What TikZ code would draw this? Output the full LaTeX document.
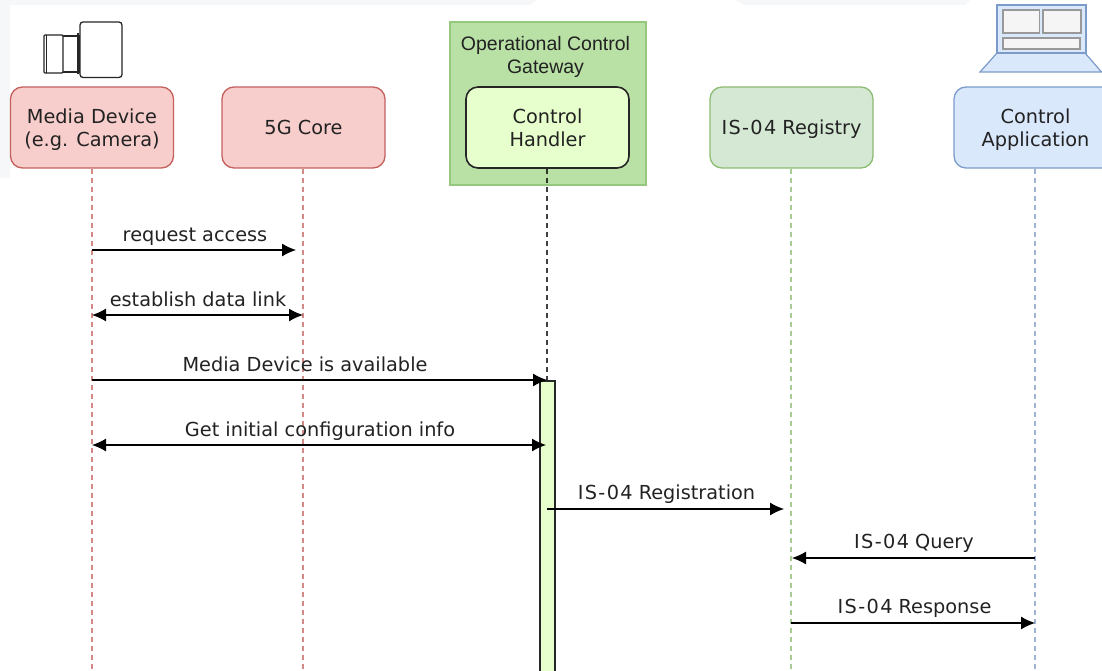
\documentclass[tikz,border=0pt]{standalone}
\usepackage{fontspec}
\setmainfont{DejaVu Sans}
\newfontfamily\helv{Liberation Sans}
\usetikzlibrary{arrows.meta}
\definecolor{redfill}{HTML}{F8CECC}\definecolor{redline}{HTML}{C4615D}
\definecolor{greenfill}{HTML}{D5E8D4}\definecolor{greenline}{HTML}{8CBB72}
\definecolor{bluefill}{HTML}{DAE8FC}\definecolor{blueline}{HTML}{7C9BC9}
\definecolor{gwfill}{HTML}{B9E0A5}\definecolor{gwline}{HTML}{96C77F}\definecolor{limefill}{HTML}{E6FFCC}
\definecolor{bgstrip}{HTML}{F6F7F9}\definecolor{textcol}{HTML}{222222}
\definecolor{winline}{HTML}{999999}\definecolor{winfill}{HTML}{F5F5F5}
\newcommand{\tl}[1]{\rule[-1.5pt]{0pt}{18pt}\smash{#1}}
\newcommand{\isf}{{\addfontfeature{LetterSpace=7}IS-04}}
\tikzset{
  actor/.style={rounded corners=12pt,minimum width=163pt,minimum height=81pt,align=center,inner sep=0pt,line width=1.3pt,font=\fontsize{19.3}{23}\selectfont,text=textcol},
  redactor/.style={actor,draw=redline,fill=redfill},
  greenactor/.style={actor,draw=greenline,fill=greenfill},
  blueactor/.style={actor,draw=blueline,fill=bluefill},
  handler/.style={actor,draw=black!85,fill=limefill,line width=1.6pt},
  lifeline/.style={dash pattern=on 5pt off 4pt,line width=1.15pt,draw opacity=0.75},
  msg/.style={line width=1.2pt,-{Latex[length=14pt,width=13pt]}},
  bimsg/.style={line width=1.2pt,{Latex[length=14pt,width=13pt]}-{Latex[length=14pt,width=13pt]}},
  msglabel/.style={font=\fontsize{19.3}{22}\selectfont,text=textcol,inner sep=0pt,anchor=base},
  iconline/.style={draw=black!85,line width=1.3pt,fill=white}
}
\begin{document}
\begin{tikzpicture}[x=1pt,y=-1pt]
\useasboundingbox (0,0) rectangle (1102,671);
\clip (0,0) rectangle (1102,671);
\fill[bgstrip] (0,0) rectangle (10,178);
\fill[bgstrip] (0,0) -- (537,0) -- (530,5) -- (0,5) -- cycle;
\fill[bgstrip] (735,0) -- (970,0) -- (965,5) -- (744,5) -- cycle;
% gateway
\node[draw=gwline,fill=gwfill,line width=1.2pt,minimum width=196pt,minimum height=163pt,inner sep=0pt] (gw) at (548,103.5) {};
\node[font=\helv\fontsize{19.5}{23}\selectfont,align=center,text=textcol,inner sep=0pt] (gwt) at (545.5,55) {\tl{Operational Control}\\\tl{Gateway}};
% actors
\node[redactor] (md) at (92,127.5) {\tl{Media Device}\\\tl{(e.g. Camera)}};
\node[redactor] (core) at (303.5,127.5) {\tl{5G Core}};
\node[handler] (ch) at (547.5,127.5) {\tl{Control}\\\tl{Handler}};
\node[greenactor] (reg) at (791.5,127.5) {\tl{\isf{} Registry}};
\node[blueactor] (app) at (1035.5,127.5) {\tl{Control}\\\tl{Application}};
% lifeline ends
\coordinate (mdE) at (92,671);\coordinate (coreE) at (303,671);
\coordinate (chE) at (547,380);\coordinate (regE) at (791,671);\coordinate (appE) at (1035,671);
\draw[lifeline,draw=redline] (md.south) -- (mdE);
\draw[lifeline,draw=redline] ([xshift=-.5pt]core.south) -- (coreE);
\draw[lifeline,draw=black] ([xshift=-.5pt]ch.south) -- (chE);
\draw[lifeline,draw=greenline] ([xshift=-.5pt]reg.south) -- (regE);
\draw[lifeline,draw=blueline] ([xshift=-.5pt]app.south) -- (appE);
% activation
\node[draw=black!85,fill=limefill,line width=1.6pt,minimum width=15.5pt,minimum height=320pt,inner sep=0pt,anchor=north] (act) at (547.5,380) {};
% messages
\coordinate (a1) at (92,250);\coordinate (a2) at (296,250);
\draw[msg] (a1) -- (a2);
\node[msglabel] (l1) at (195,241) {request access};
\coordinate (b1) at (92,315);\coordinate (b2) at (303,315);
\draw[bimsg] (b1) -- (b2);
\node[msglabel] (l2) at (198,306) {establish data link};
\coordinate (c1) at (92,380);\coordinate (c2) at (547,380);
\draw[msg] (c1) -- (c2);
\node[msglabel] (l3) at (305,371) {Media Device is available};
\coordinate (d1) at (92,445);\coordinate (d2) at (546,445);
\draw[bimsg] (d1) -- (d2);
\node[msglabel] (l4) at (320,436) {Get initial configuration info};
\coordinate (e1) at (547,509);\coordinate (e2) at (784,509);
\draw[msg] (e1) -- (e2);
\node[msglabel] (l5) at (666.5,499) {\isf{} Registration};
\coordinate (f1) at (1035,558);\coordinate (f2) at (792,558);
\draw[msg] (f1) -- (f2);
\node[msglabel] (l6) at (914,548) {\isf{} Query};
\coordinate (g1) at (791,623);\coordinate (g2) at (1035,623);
\draw[msg] (g1) -- (g2);
\node[msglabel] (l7) at (914.5,613) {\isf{} Response};
% camera icon
\draw[iconline] (62,36) rectangle (79,72);
\draw[iconline,rounded corners=1pt] (44,35) rectangle (63,73);
\draw[black!85,line width=0.9pt] (46.5,35) -- (46.5,73);
\draw[black!85,line width=1.6pt] (78,33.5) -- (78,74);
\draw[iconline,rounded corners=3pt] (80,22) rectangle (122,77.5);
% laptop icon
\draw[draw=blueline,fill=bluefill,line width=1.2pt] (997,53) -- (980,72) -- (1101.5,72) -- (1085,53) -- cycle;
\fill[bluefill,draw=blueline,line width=1.2pt] (997,5) rectangle (1086,53);
\draw[draw=winline,fill=winfill,line width=1.6pt] (1003,10) rectangle (1039.5,33);
\draw[draw=winline,fill=winfill,line width=1.6pt] (1043,10) rectangle (1081,33);
\draw[draw=winline,fill=winfill,line width=1.6pt] (1003,38) rectangle (1080,49);
\end{tikzpicture}
\end{document}
